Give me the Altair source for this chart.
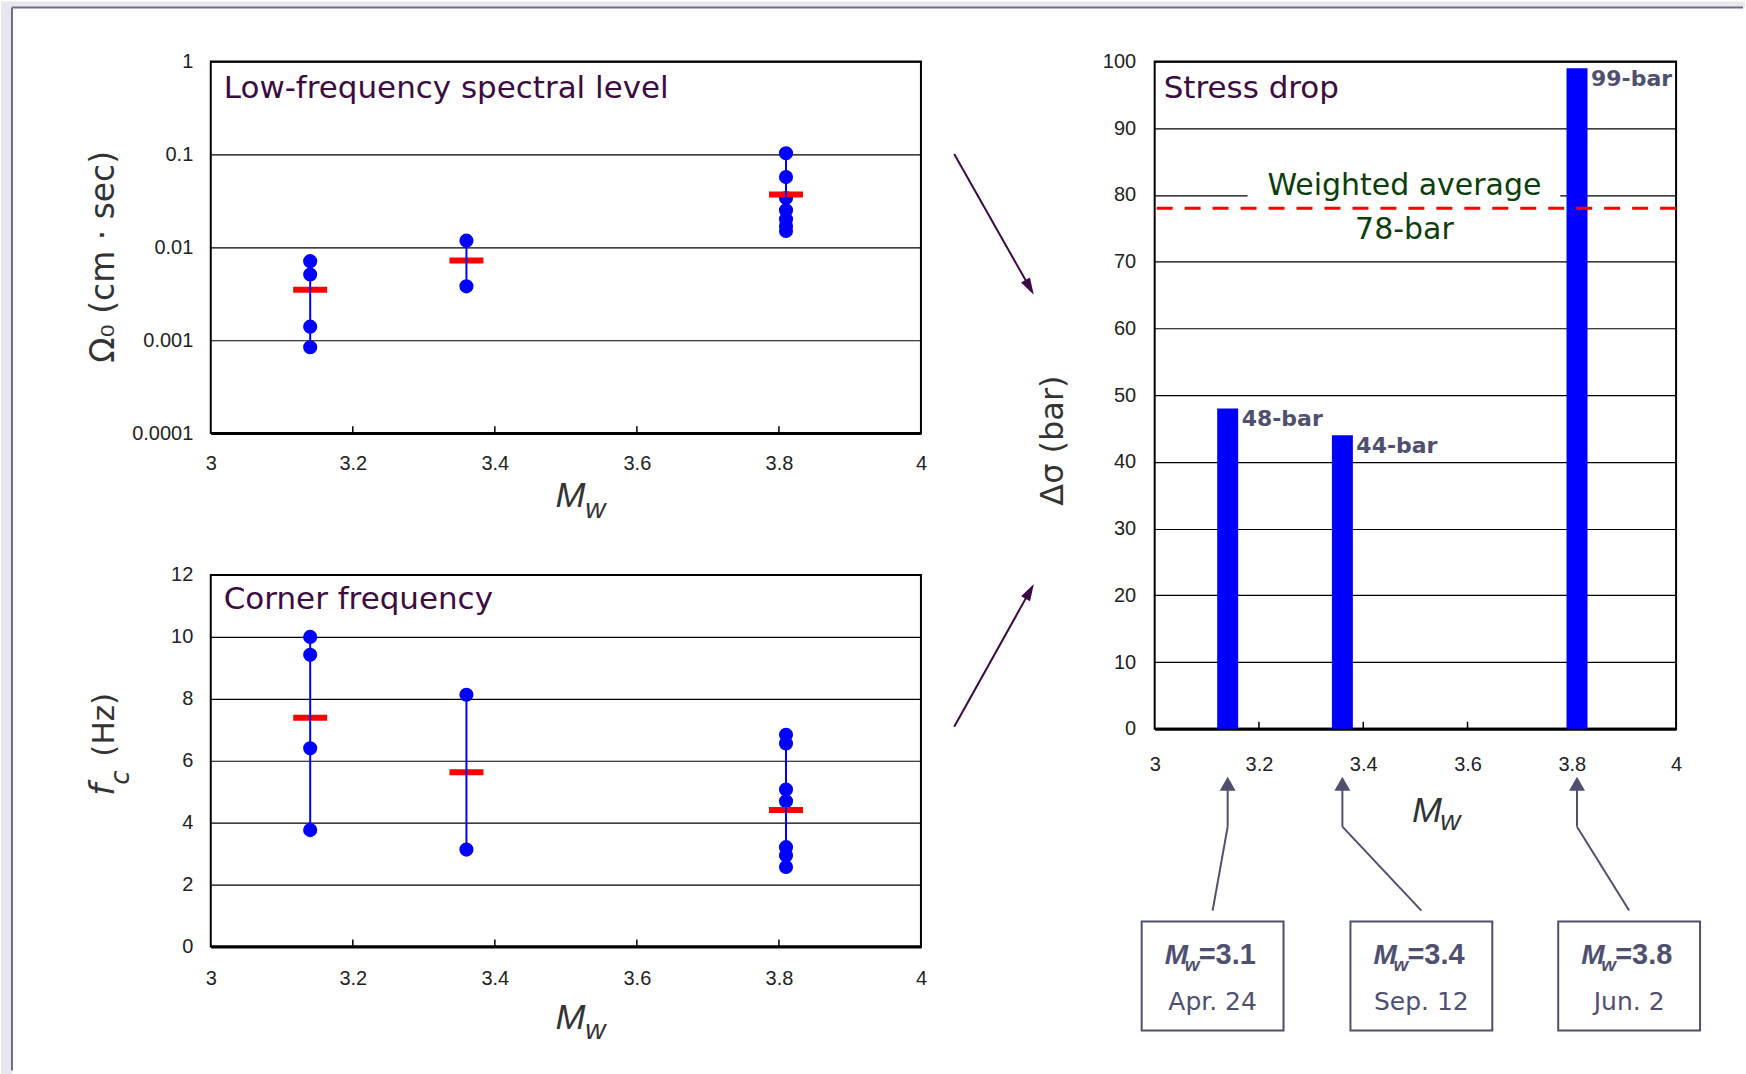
import altair as alt
import pandas as pd

# ---------------------------------------------------------------- data
EVENT_MW = [3.14, 3.36, 3.81]
OMEGA0 = [
    [0.0071, 0.0051, 0.0014, 0.00084],
    [0.0118, 0.0038],
    [0.103, 0.057, 0.034, 0.025, 0.020, 0.017, 0.015],
]
OMEGA0_MEAN = [0.0035, 0.0072, 0.037]
FC = [
    [10.0, 9.42, 6.40, 3.76],
    [8.13, 3.13],
    [6.84, 6.56, 5.07, 4.69, 3.21, 2.94, 2.57],
]
FC_MEAN = [7.39, 5.63, 4.41]
STRESS_DROP = [48, 44, 99]
WEIGHTED_AVG = 78
EVENT_MW_TEXT = ["3.1", "3.4", "3.8"]
EVENT_DATE = ["Apr. 24", "Sep. 12", "Jun. 2"]

MW_TICKS = [3, 3.2, 3.4, 3.6, 3.8, 4]
MW_INNER_TICKS = [3.2, 3.4, 3.6, 3.8]
OMEGA0_TICKS = [0.0001, 0.001, 0.01, 0.1, 1]
FC_TICKS = [0, 2, 4, 6, 8, 10, 12]
SD_TICKS = [0, 10, 20, 30, 40, 50, 60, 70, 80, 90, 100]

# ---------------------------------------------------------------- layout / style
LEFT_W, LEFT_H = 711, 372
RIGHT_W, RIGHT_H = 522, 668
ROW_GAP, COL_GAP = 142, 234

BLUE = "#0000ff"
RED = "#ff0000"
PURPLE = "#3c0b40"
GREEN = "#0c3d0c"
SLATE = "#4f4f70"
ARROW = "#3a0a45"
FRAME = "#6c6c8c"
OUTSIDE = "#e8e7ee"
LAB_FONT = "Liberation Sans"
TXT_FONT = "DejaVu Sans"

X_SCALE = alt.Scale(domain=[3, 4], nice=False, zero=False, padding=0)


def x_axis(pad, offset=0):
    return alt.Axis(values=MW_TICKS, format="~g", title=None, ticks=False,
                    grid=False, domainWidth=3, domainColor="black",
                    labelPadding=pad, labelFlush=False, labelOverlap=False,
                    offset=offset)


def const_text(txt, x, y, **kw):
    return alt.Chart(pd.DataFrame({"label": [txt]})).mark_text(**kw).encode(
        text="label:N", x=alt.value(x), y=alt.value(y))


def pixel_rule(x, y, x2, y2, **kw):
    return alt.Chart(pd.DataFrame({"k": [0]})).mark_rule(**kw).encode(
        x=alt.value(x), y=alt.value(y), x2=alt.value(x2), y2=alt.value(y2))


def pixel_rect(x, y, x2, y2, **kw):
    return alt.Chart(pd.DataFrame({"k": [0]})).mark_rect(**kw).encode(
        x=alt.value(x), y=alt.value(y), x2=alt.value(x2), y2=alt.value(y2))


def arrow_head(x, y, angle, size, shape, color):
    return alt.Chart(pd.DataFrame({"k": [0]})).mark_point(
        shape=shape, filled=True, size=size, angle=angle, color=color,
        opacity=1, strokeWidth=0).encode(x=alt.value(x), y=alt.value(y))


def mw_title(xm, ym, xw, yw):
    return [
        const_text("M", xm, ym, font=LAB_FONT, fontStyle="italic", fontSize=36,
                   align="center", baseline="alphabetic", color="#333333"),
        const_text("w", xw, yw, font=LAB_FONT, fontStyle="italic", fontSize=28,
                   align="center", baseline="alphabetic", color="#333333"),
    ]


def inner_ticks(height, xenc):
    return alt.Chart(pd.DataFrame({"mw": MW_INNER_TICKS})).mark_rule(
        color="black", strokeWidth=1.5).encode(
        x=xenc, y=alt.value(height - 7), y2=alt.value(height))


def scatter_panel(values, means, y_scale, y_axis, title_txt, title_y, label_pad):
    pts = pd.DataFrame([(mw, v) for mw, vs in zip(EVENT_MW, values) for v in vs],
                       columns=["mw", "v"])
    spans = pd.DataFrame({"mw": EVENT_MW,
                          "v": [min(vs) for vs in values],
                          "hi": [max(vs) for vs in values]})
    avg = pd.DataFrame({"mw": EVENT_MW, "v": means})
    xe = alt.X("mw:Q", scale=X_SCALE, axis=x_axis(label_pad))
    ye = alt.Y("v:Q", scale=y_scale, axis=y_axis)

    dots = alt.Chart(pts).mark_circle(size=200, color=BLUE, opacity=1).encode(x=xe, y=ye)
    mean = alt.Chart(avg).mark_tick(orient="horizontal", size=34, thickness=6,
                                    color=RED, opacity=1).encode(x=xe, y=ye)
    span = alt.Chart(spans).mark_rule(color=BLUE, strokeWidth=2).encode(
        x=xe, y=ye, y2="hi:Q")
    title = const_text(title_txt, 13, title_y, font=TXT_FONT, fontSize=31,
                       align="left", baseline="middle", color=PURPLE)
    return [inner_ticks(LEFT_H, xe), dots, mean, span, title]


# ---------------------------------------------------------------- Ω0 panel
omega_axis = alt.Axis(values=OMEGA0_TICKS, format="~g", grid=True, ticks=False,
                      domain=False, labelPadding=18, labelOverlap=False,
                      labelFlush=False,
                      title="Ω₀  (cm   ·   sec)", titleFont=TXT_FONT,
                      titleFontSize=33, titleFontWeight="normal",
                      titleColor="#333333", titleAngle=270, titleAlign="center",
                      titleBaseline="alphabetic", titleX=-97, titleY=195)
omega_layers = scatter_panel(OMEGA0, OMEGA0_MEAN,
                             alt.Scale(type="log", domain=[0.0001, 1]),
                             omega_axis, "Low-frequency spectral level", 27, 20)

# slide background: grey margin and frame around the white page
frame_layers = [
    pixel_rect(-210, -60, -199, 1014, color=OUTSIDE),
    pixel_rect(-210, -60, 1536, -54, color=OUTSIDE),
    pixel_rule(-199, -54, -199, 1010, color=FRAME, strokeWidth=2),
    pixel_rule(-199, -54, 1534, -54, color=FRAME, strokeWidth=2),
]

top_left = alt.layer(
    *frame_layers, *omega_layers, *mw_title(360, 446, 385, 456.5)
).properties(width=LEFT_W, height=LEFT_H)

# ---------------------------------------------------------------- fc panel
fc_axis = alt.Axis(values=FC_TICKS, format="d", grid=True, ticks=False,
                   domain=False, labelPadding=18, labelOverlap=False,
                   labelFlush=False, title=None)
fc_layers = scatter_panel(FC, FC_MEAN, alt.Scale(domain=[0, 12], nice=False),
                          fc_axis, "Corner frequency", 25, 22)
fc_title = [
    const_text("f", -97, 215, font=TXT_FONT, fontStyle="italic", fontSize=34,
               angle=270, align="center", baseline="alphabetic", color="#333333"),
    const_text("c", -82, 203, font=TXT_FONT, fontStyle="italic", fontSize=26,
               angle=270, align="center", baseline="alphabetic", color="#333333"),
    const_text("(Hz)", -97, 150, font=TXT_FONT, fontSize=31,
               angle=270, align="center", baseline="alphabetic", color="#333333"),
]
bottom_left = alt.layer(
    *fc_layers, *fc_title, *mw_title(360, 455, 385, 465)
).properties(width=LEFT_W, height=LEFT_H)

# ---------------------------------------------------------------- stress drop panel
# The panel sits in the first grid row next to the Ω0 panel; its taller plot
# area is obtained from an explicit y range and an offset x axis.
sd = pd.DataFrame({"mw": EVENT_MW, "sd": STRESS_DROP,
                   "label": [f"{v}-bar" for v in STRESS_DROP]})
sd_axis = alt.Axis(values=SD_TICKS, format="d", grid=True, ticks=False,
                   domain=False, labelPadding=19, labelOverlap=False,
                   labelFlush=False,
                   title="Δσ   (bar)", titleFont=TXT_FONT, titleFontSize=32,
                   titleFontWeight="normal", titleColor="#333333",
                   titleAngle=270, titleAlign="center",
                   titleBaseline="alphabetic", titleX=-92, titleY=379)
sd_x = alt.X("mw:Q", scale=X_SCALE, axis=x_axis(26, RIGHT_H - LEFT_H))
sd_y = alt.Y("sd:Q", scale=alt.Scale(domain=[0, 100], range=[RIGHT_H, 0], nice=False),
             axis=sd_axis)

sd_frame = pixel_rect(0, 0, RIGHT_W, RIGHT_H, fill="white", fillOpacity=0,
                      stroke="black", strokeWidth=2)
bars = alt.Chart(sd).mark_bar(size=21, color=BLUE).encode(x=sd_x, y=sd_y)
bar_labels = alt.Chart(sd).mark_text(
    font=TXT_FONT, fontWeight="bold", fontSize=22, color=SLATE,
    align="left", baseline="middle", dx=14, dy=11).encode(
    x=sd_x, y=sd_y, text="label:N")

avg_df = pd.DataFrame({"sd": [WEIGHTED_AVG], "label": [f"{WEIGHTED_AVG}-bar"]})
avg_gap = pixel_rect(93, 112, 406, 139, color="white")
avg_line = alt.Chart(avg_df).mark_rule(
    color=RED, strokeWidth=3, strokeDash=[16, 12]).encode(y=sd_y)
avg_name = alt.Chart(avg_df).mark_text(
    text="Weighted average", font=TXT_FONT, fontSize=30, color=GREEN,
    align="center", baseline="middle", dy=-22).encode(x=alt.value(250), y=sd_y)
avg_value = alt.Chart(avg_df).mark_text(
    font=TXT_FONT, fontSize=30, color=GREEN,
    align="center", baseline="middle", dy=22).encode(
    x=alt.value(250), y=sd_y, text="label:N")
sd_title = const_text("Stress drop", 9, 27, font=TXT_FONT, fontSize=31,
                      align="left", baseline="middle", color=PURPLE)

# arrows leading from the two spectral panels
HEAD = "M0,-1L0.6,1L-0.6,1Z"
link_arrows = [
    pixel_rule(-200.7, 92.5, -127.9, 221.3, color=ARROW, strokeWidth=2),
    arrow_head(-125.2, 226.1, 150.6, 289, HEAD, ARROW),
    pixel_rule(-200.7, 666, -127.8, 535.2, color=ARROW, strokeWidth=2),
    arrow_head(-125.1, 530.4, 29.2, 289, HEAD, ARROW),
]

# event boxes under the axis, each with a pointer to its magnitude
BOX_LEFT = [-13, 196, 404]
BOX_W, BOX_TOP, BOX_H = 142, 861, 109
event_layers = []
for mw, left, mtxt, date in zip(EVENT_MW, BOX_LEFT, EVENT_MW_TEXT, EVENT_DATE):
    cx = left + BOX_W / 2
    ev = pd.DataFrame({"mw": [mw]})
    event_layers += [
        alt.Chart(ev).mark_rule(color=SLATE, strokeWidth=2).encode(
            x=sd_x, y=alt.value(729), y2=alt.value(766)),
        alt.Chart(ev).mark_rule(color=SLATE, strokeWidth=2).encode(
            x=sd_x, x2=alt.value(cx), y=alt.value(766), y2=alt.value(850)),
        alt.Chart(ev).mark_point(shape="triangle-up", filled=True, size=256,
                                 color=SLATE, opacity=1, strokeWidth=0).encode(
            x=sd_x, y=alt.value(723)),
        pixel_rect(left, BOX_TOP, left + BOX_W, BOX_TOP + BOX_H,
                   fill="white", stroke=SLATE, strokeWidth=2),
        const_text("M", left + 23, BOX_TOP + 42, font=LAB_FONT, fontStyle="italic",
                   fontWeight="bold", fontSize=28, align="left",
                   baseline="alphabetic", color=SLATE),
        const_text("w", left + 43, BOX_TOP + 49, font=LAB_FONT, fontStyle="italic",
                   fontWeight="bold", fontSize=19, align="left",
                   baseline="alphabetic", color=SLATE),
        const_text("=" + mtxt, left + 57, BOX_TOP + 42, font=LAB_FONT,
                   fontWeight="bold", fontSize=29, align="left",
                   baseline="alphabetic", color=SLATE),
        const_text(date, cx, BOX_TOP + 89, font=TXT_FONT, fontSize=25,
                   align="center", baseline="alphabetic", color=SLATE),
    ]

right = alt.layer(
    sd_frame, inner_ticks(RIGHT_H, sd_x), avg_gap, bars, avg_line, bar_labels,
    avg_name, avg_value, sd_title, *mw_title(272.5, 761, 296, 769.5),
    *link_arrows, *event_layers
).properties(width=RIGHT_W, height=LEFT_H,
             view=alt.ViewBackground(stroke="transparent"))

# ---------------------------------------------------------------- assemble
chart = alt.concat(
    top_left, right, bottom_left,
    columns=2, bounds="flush", align="none",
    spacing={"row": ROW_GAP, "column": COL_GAP},
).properties(
    padding=0, background="white"
).configure_view(
    stroke="black", strokeWidth=2
).configure_axis(
    labelFont=LAB_FONT, labelFontSize=20, labelColor="#222222",
    gridColor="black", gridWidth=1.2, gridOpacity=1,
)

chart.save("out.html", embed_options={"renderer": "svg", "actions": False})
